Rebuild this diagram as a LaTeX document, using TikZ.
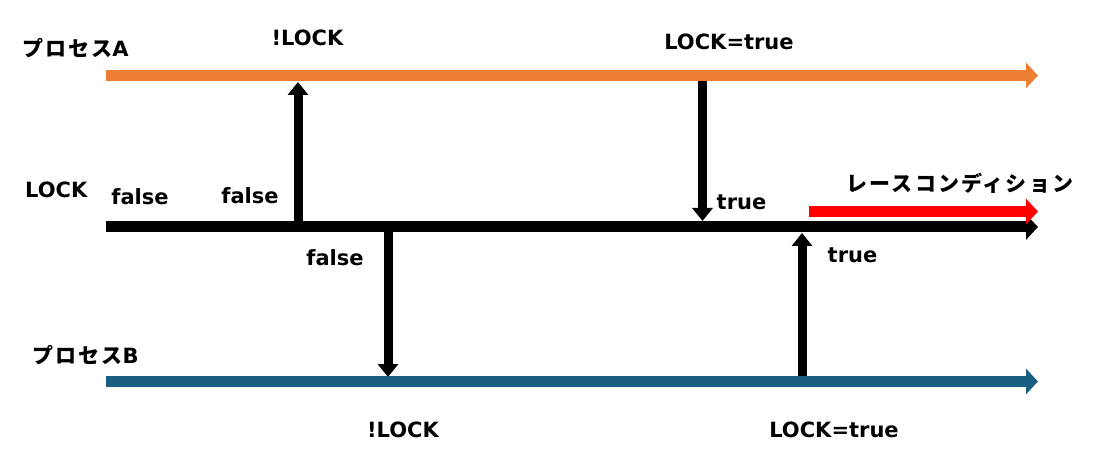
\documentclass[tikz,border=0pt]{standalone}
\usepackage{fontspec}
\setmainfont{DejaVu Sans}
\newfontfamily\jpfont{Noto Sans CJK JP}[LetterSpace=10]
\usetikzlibrary{arrows.meta}
\definecolor{procA}{HTML}{ED7D31}
\definecolor{procB}{HTML}{195F84}
\definecolor{race}{HTML}{FF0000}
\begin{document}
\begin{tikzpicture}[x=1pt,y=-1pt,
  lbl/.style={font=\bfseries\fontsize{21}{25}\selectfont,inner sep=0pt},
  timeline/.style={line width=11pt,-{Triangle[width=25pt,length=12pt]}},
  access/.style={line width=9pt,black,-{Triangle[width=20pt,length=13pt]}}]
\useasboundingbox (0,0) rectangle (1093,457);
% time lines
\coordinate (As) at (106,75.5);  \coordinate (Ae) at (1038,75.5);
\coordinate (Ls) at (106,227);   \coordinate (Le) at (1038,227);
\coordinate (Rs) at (809,211.5); \coordinate (Re) at (1038,211.5);
\coordinate (Bs) at (106,381.5); \coordinate (Be) at (1038,381.5);
% ends of the accesses
\coordinate (a1) at (298,221);  \coordinate (a1t) at (298,82);
\coordinate (a2) at (702.5,81); \coordinate (a2t) at (702.5,221);
\coordinate (b1) at (388,232);  \coordinate (b1t) at (388,377);
\coordinate (b2) at (802,376);  \coordinate (b2t) at (802,233);
\draw[access] (a1) -- (a1t);
\draw[access] (a2) -- (a2t);
\draw[access] (b1) -- (b1t);
\draw[access] (b2) -- (b2t);
\draw[timeline,procA] (As) -- (Ae);
\draw[timeline,black] (Ls) -- (Le);
\draw[timeline,race] (Rs) -- (Re);
\draw[timeline,procB] (Bs) -- (Be);
% labels
\node[lbl,anchor=west] (pA) at (22,48) {{\jpfont\bfseries プロセス}A};
\node[lbl,anchor=west] (lk) at (25,190) {LOCK};
\node[lbl,anchor=west] (pB) at (32,355) {{\jpfont\bfseries プロセス}B};
\node[lbl] (nA) at (307.5,38) {!LOCK};
\node[lbl] (tA) at (729,42) {LOCK=true};
\node[lbl] (f1) at (140,197) {false};
\node[lbl] (f2) at (250,196) {false};
\node[lbl] (f3) at (335,258) {false};
\node[lbl] (t1) at (741.5,202) {true};
\node[lbl] (rc) at (960,183) {\jpfont\bfseries レースコンディション};
\node[lbl] (t2) at (852.5,255) {true};
\node[lbl] (nB) at (403,430) {!LOCK};
\node[lbl] (tB) at (834,430) {LOCK=true};
\end{tikzpicture}
\end{document}
